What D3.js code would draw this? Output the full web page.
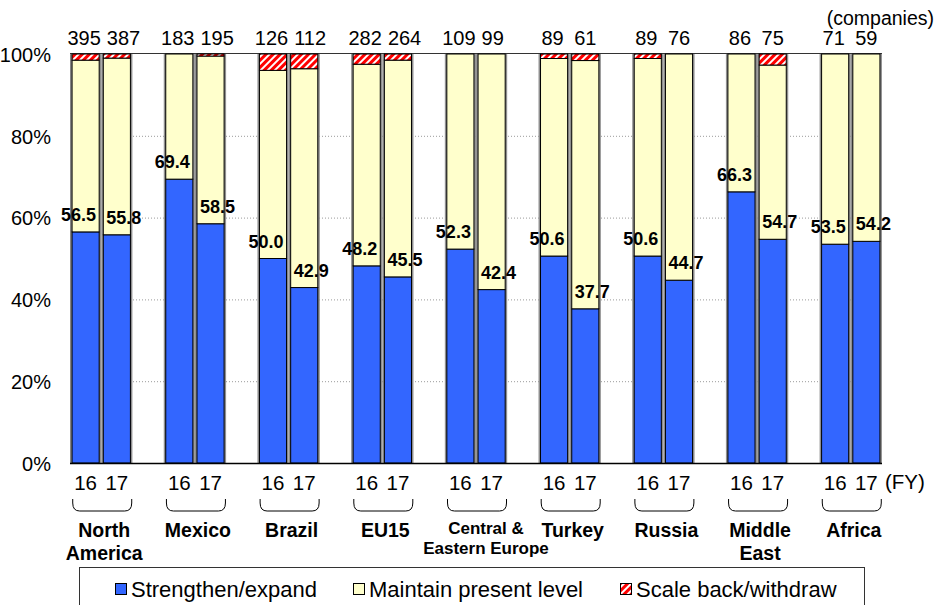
<!DOCTYPE html>
<html>
<head>
<meta charset="utf-8">
<script src="https://cdn.jsdelivr.net/npm/d3@7/dist/d3.min.js"></script>
<style>
  html, body { margin: 0; padding: 0; background: #fff; }
  svg { display: block; }
  text { font-family: "Liberation Sans", Arial, Helvetica, sans-serif; fill: #000; }
</style>
</head>
<body>
<svg id="chart" width="942" height="605"></svg>
<script>
// Regions and fiscal years
const regions = ["North America", "Mexico", "Brazil", "EU15", "Central & Eastern Europe",
                 "Turkey", "Russia", "Middle East", "Africa"];
const regionLines = [["North", "America"], ["Mexico"], ["Brazil"], ["EU15"],
                     ["Central &", "Eastern Europe"], ["Turkey"], ["Russia"],
                     ["Middle", "East"], ["Africa"]];
const years = ["16", "17"];

// Share of companies (%) by future business plan
const strengthen16 = [56.5, 69.4, 50.0, 48.2, 52.3, 50.6, 50.6, 66.3, 53.5];
const strengthen17 = [55.8, 58.5, 42.9, 45.5, 42.4, 37.7, 44.7, 54.7, 54.2];
const maintain16   = [42.0, 30.6, 46.0, 49.3, 47.7, 48.3, 48.3, 33.7, 46.5];
const maintain17   = [43.2, 41.0, 53.5, 53.0, 57.6, 60.7, 55.3, 42.6, 45.8];
const scaleBack16  = [1.5, 0.0, 4.0, 2.5, 0.0, 1.1, 1.1, 0.0, 0.0];
const scaleBack17  = [1.0, 0.5, 3.6, 1.5, 0.0, 1.6, 0.0, 2.7, 0.0];

// Number of responding companies
const companies16 = [395, 183, 126, 282, 109, 89, 89, 86, 71];
const companies17 = [387, 195, 112, 264, 99, 61, 76, 75, 59];

const yTicks = [0, 20, 40, 60, 80, 100];
const seriesKeys = ["strengthen", "maintain", "scaleBack"];
const seriesNames = ["Strengthen/expand", "Maintain present level", "Scale back/withdraw"];

const rows = regions.flatMap((r, i) => years.map(yr => ({
  region: r, index: i, year: yr, key: r + "|" + yr,
  strengthen: yr === "16" ? strengthen16[i] : strengthen17[i],
  maintain:   yr === "16" ? maintain16[i]   : maintain17[i],
  scaleBack:  yr === "16" ? scaleBack16[i]  : scaleBack17[i],
  companies:  yr === "16" ? companies16[i]  : companies17[i]
})));

// ---- layout ----
const svg = d3.select("#chart");
const plot = { left: 70, right: 882, top: 54, bottom: 463 };

// one slot per bar, with an empty slot between regions
const slots = regions.flatMap((r, i) =>
  i < regions.length - 1 ? [r + "|16", r + "|17", "gap" + i] : [r + "|16", r + "|17"]);

const x = d3.scaleBand().domain(slots).range([plot.left, plot.right])
  .paddingInner(0.1).paddingOuter(0.05);
const y = d3.scaleLinear().domain([0, 100]).range([plot.bottom, plot.top]);
const bw = x.bandwidth();
const cx = key => x(key) + bw / 2;

const color = { strengthen: "#3366FF", maintain: "#FFFFCC", scaleBack: "url(#hatch)" };

// hatch pattern for "scale back"
const defs = svg.append("defs");
const pat = defs.append("pattern").attr("id", "hatch")
  .attr("patternUnits", "userSpaceOnUse").attr("width", 5).attr("height", 5)
  .attr("patternTransform", "rotate(45)");
pat.append("rect").attr("width", 5).attr("height", 5).attr("fill", "#fff");
pat.append("rect").attr("width", 3).attr("height", 5).attr("fill", "#FF0000");

// gridlines
svg.append("g").selectAll("line").data(yTicks.filter(t => t > 0 && t < 100)).join("line")
  .attr("x1", plot.left).attr("x2", plot.right)
  .attr("y1", d => y(d) + 0.5).attr("y2", d => y(d) + 0.5)
  .attr("stroke", "#9a9a9a").attr("stroke-width", 1).attr("stroke-dasharray", "1,2");
svg.append("line").attr("x1", plot.left).attr("x2", plot.right)
  .attr("y1", y(100) - 0.5).attr("y2", y(100) - 0.5)
  .attr("stroke", "#333").attr("stroke-width", 1);

// y axis
const yAxis = d3.axisLeft(y).tickValues(yTicks).tickFormat(d => d + "%").tickSize(0).tickPadding(19);
const yg = svg.append("g").attr("transform", `translate(${plot.left},0)`).call(yAxis);
yg.select(".domain").attr("stroke", "#000").attr("stroke-width", 1);
yg.selectAll("text").style("font-size", "20px").attr("dy", "0.36em")
  .attr("font-family", "'Liberation Sans', Arial, sans-serif");

// bars
const stacked = d3.stack().keys(seriesKeys)(rows);
const barG = svg.append("g");
barG.selectAll("rect.shadow").data(rows).join("rect").attr("class", "shadow")
  .attr("x", d => x(d.key) - 1.5).attr("width", bw + 3)
  .attr("y", y(100)).attr("height", y(0) - y(100))
  .attr("fill", "#8f8f8f");
stacked.forEach(layer => {
  barG.append("g").selectAll("rect").data(layer.filter(s => s[1] - s[0] > 0)).join("rect")
    .attr("x", s => x(s.data.key) + 0.5)
    .attr("width", bw - 1)
    .attr("y", s => y(s[1]))
    .attr("height", s => y(s[0]) - y(s[1]))
    .attr("fill", color[layer.key])
    .attr("stroke", "#000").attr("stroke-width", 1);
});

// x baseline
svg.append("line").attr("x1", plot.left).attr("x2", plot.right)
  .attr("y1", plot.bottom + 0.5).attr("y2", plot.bottom + 0.5)
  .attr("stroke", "#000").attr("stroke-width", 1.5);

// value labels for "strengthen/expand"
svg.append("g").selectAll("text").data(rows).join("text")
  .attr("x", d => cx(d.key) + (d.year === "16" ? -7 : 7))
  .attr("y", d => y(d.strengthen) - 11)
  .attr("text-anchor", "middle").style("font-size", "18px").style("font-weight", "bold")
  .text(d => d.strengthen.toFixed(1));

// company counts: the FY17 figure is pushed right when it would touch the FY16 figure
const countG = svg.append("g").style("font-size", "20px");
regions.forEach(r => {
  const pair = rows.filter(d => d.region === r);
  const a = countG.append("text").attr("text-anchor", "middle")
    .attr("x", cx(pair[0].key) - 1.5).attr("y", 45).text(pair[0].companies);
  const aEnd = cx(pair[0].key) - 1.5 + a.node().getComputedTextLength() / 2;
  const b = countG.append("text").attr("y", 45).text(pair[1].companies);
  const wb = b.node().getComputedTextLength();
  const start = Math.max(cx(pair[1].key) - wb / 2, aEnd + 6);
  b.attr("x", start);
});
svg.append("text").attr("x", 934).attr("y", 25).attr("text-anchor", "end")
  .style("font-size", "19.5px").text("(companies)");

// fiscal year labels
svg.append("g").selectAll("text").data(rows).join("text")
  .attr("x", d => cx(d.key)).attr("y", 490)
  .attr("text-anchor", "middle").style("font-size", "20.5px")
  .text(d => d.year);
svg.append("text").attr("x", 885).attr("y", 489).style("font-size", "20.5px").text("(FY)");

// region brackets and names
const groupCenter = r => (x(r + "|16") + x(r + "|17") + bw) / 2;
const bracket = svg.append("g");
regions.forEach((r, i) => {
  const c = groupCenter(r) + 1;
  const x0 = c - 29.5, x1 = c + 29.5, t = 499, b = 511;
  bracket.append("path")
    .attr("d", `M${x0},${t} L${x0},${t + 4} Q${x0},${b} ${x0 + 7},${b} L${x1 - 7},${b} Q${x1},${b} ${x1},${t + 4} L${x1},${t}`)
    .attr("fill", "none").attr("stroke", "#000").attr("stroke-width", 1);
  const small = r === "Central & Eastern Europe";
  const shift = small ? 10 : 3;
  const txt = svg.append("text").attr("text-anchor", "middle")
    .style("font-size", small ? "17px" : "19.5px").style("font-weight", "bold");
  regionLines[i].forEach((line, k) => {
    txt.append("tspan").attr("x", groupCenter(r) + shift)
      .attr("y", small ? (k === 0 ? 534 : 554) : (k === 0 ? 537 : 560))
      .text(line);
  });
});

// legend
const lg = svg.append("g");
lg.append("rect").attr("x", 79.5).attr("y", 567.5).attr("width", 785).attr("height", 60)
  .attr("fill", "#fff").attr("stroke", "#333").attr("stroke-width", 1);
const legendX = [115, 353, 620];
seriesKeys.forEach((k, i) => {
  lg.append("rect").attr("x", legendX[i] + 0.5).attr("y", 583.5).attr("width", 11).attr("height", 11)
    .attr("fill", color[k]).attr("stroke", "#000").attr("stroke-width", 1);
  lg.append("text").attr("x", legendX[i] + 16).attr("y", 597)
    .style("font-size", "22px").text(seriesNames[i]);
});
</script>
</body>
</html>
